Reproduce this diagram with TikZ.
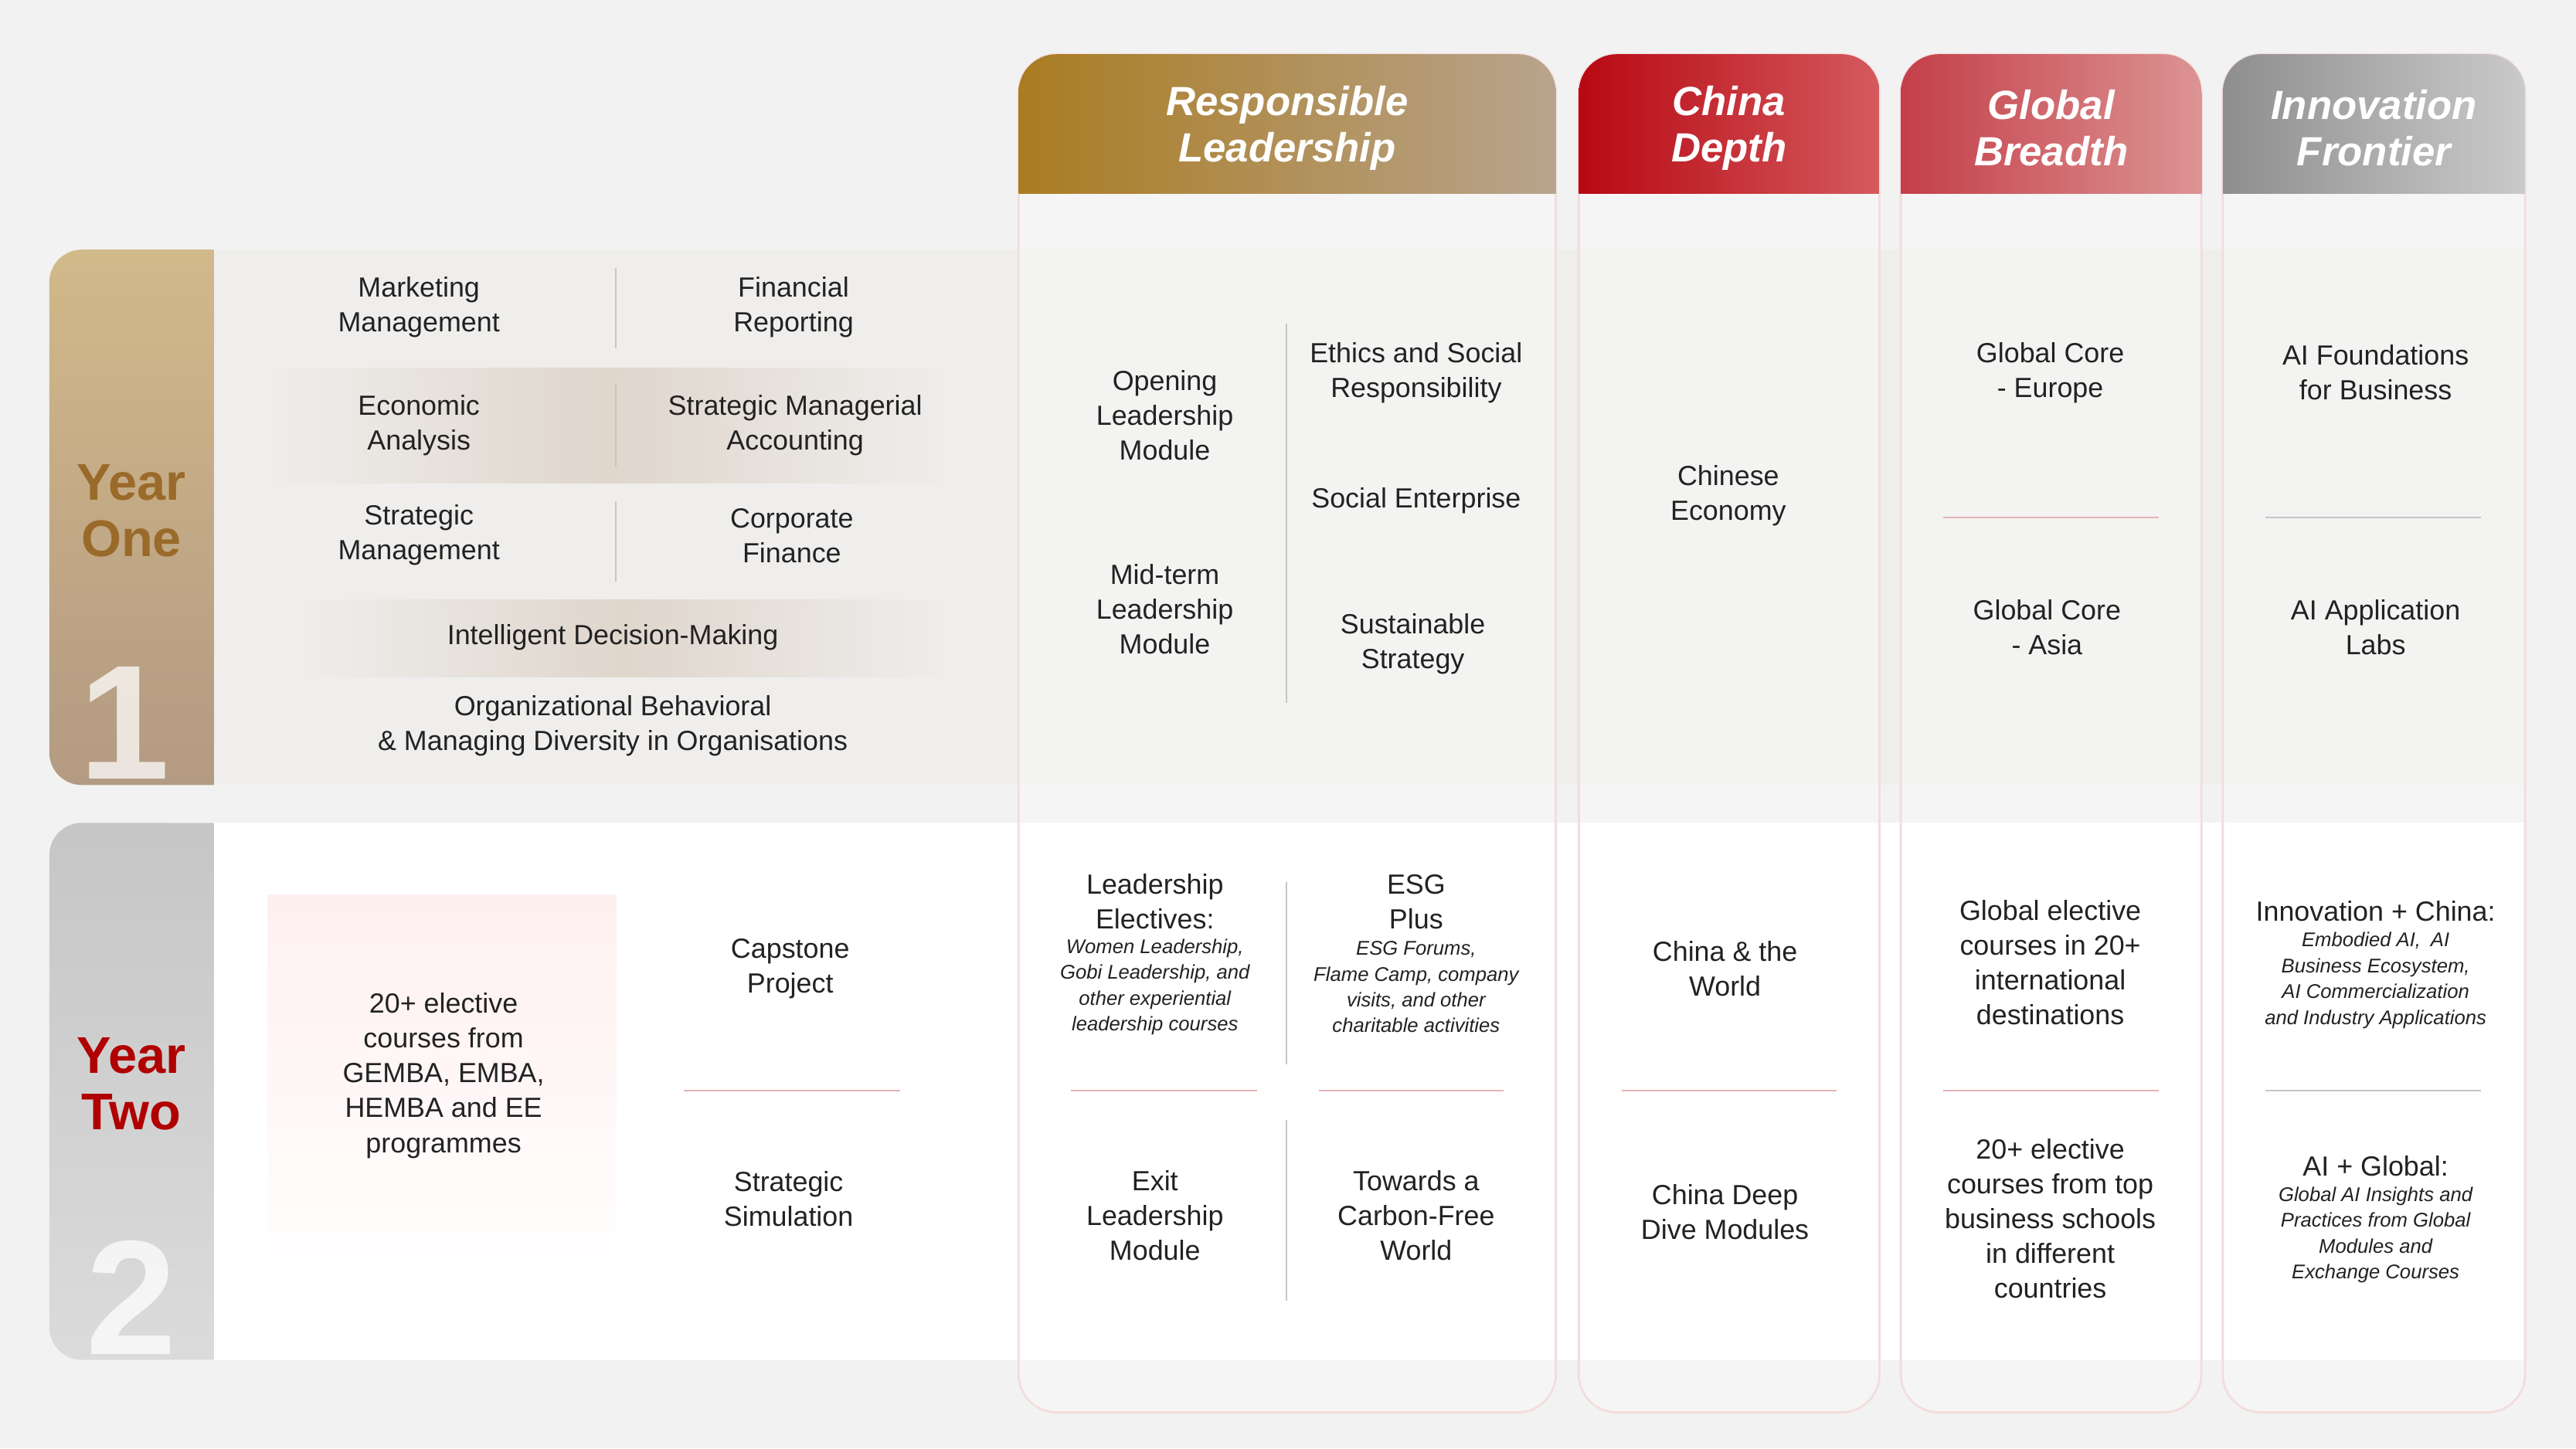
\documentclass[tikz,border=0pt]{standalone}
\usepackage{fontspec}
\setmainfont{Liberation Sans}
\usetikzlibrary{positioning}
\definecolor{bg}{HTML}{F2F2F2}
\definecolor{bandone}{HTML}{EFEEED}
\definecolor{gold}{HTML}{AA7C22}
\definecolor{goldlt}{HTML}{B8A48E}
\definecolor{tabtop}{HTML}{D2B98A}
\definecolor{tabbot}{HTML}{B39A82}
\definecolor{brownyr}{HTML}{9A6A2A}
\definecolor{redyr}{HTML}{B00000}
\definecolor{chinaA}{HTML}{B80812}
\definecolor{chinaB}{HTML}{D45A5E}
\definecolor{globA}{HTML}{C43E48}
\definecolor{globB}{HTML}{DC9494}
\definecolor{innoA}{HTML}{8E8E8E}
\definecolor{innoB}{HTML}{CACACA}
\definecolor{txtc}{HTML}{222222}
\definecolor{pinkline}{HTML}{E4B4B4}
\tikzset{
	txt/.style={align=center, text=txtc, font=\fontsize{10.2}{12.8}\selectfont},
	small/.style={align=center, text=txtc, font=\fontsize{7.3}{9.5}\selectfont\itshape},
	head/.style={align=center, text=white, font=\fontsize{15}{17}\selectfont\bfseries\itshape},
	year/.style={align=center, font=\fontsize{19}{21}\selectfont\bfseries},
	bignum/.style={text=white, opacity=0.75, font=\fontsize{60}{60}\selectfont\bfseries},
	sep/.style={gray!45, line width=0.6pt},
	rsep/.style={pinkline, line width=0.6pt},
	col/.style={draw=pinkline!45, line width=0.8pt, fill=white, fill opacity=0.3, rounded corners=14pt}
}
\begin{document}
\begin{tikzpicture}[x=0.02126cm, y=-0.02126cm]
	\useasboundingbox (0,0) rectangle (1568,882);
	\fill [bg] (0,0) rectangle (1568,882);

	% year bands
	\fill [bandone] (100,152) rectangle (1537,478);
	\fill [white] (100,501) rectangle (1537,828);
	\begin{scope}
		\clip [rounded corners=12pt] (30,152) rectangle (170,478);
		\shade [top color=tabtop, bottom color=tabbot] (30,152) rectangle (130,478);
	\end{scope}
	\begin{scope}
		\clip [rounded corners=12pt] (30,501) rectangle (170,828);
		\shade [top color=gray!45, bottom color=gray!28] (30,501) rectangle (130,828);
	\end{scope}
	\node [year, text=brownyr] (y1) at (80,311) {Year\\One};
	\node [year, text=redyr] (y2) at (80,660) {Year\\Two};
	\node [bignum] (n1) at (76,440) {1};
	\node [bignum] (n2) at (80,790) {2};

	% highlight strips
	\shade [left color=bandone, right color=bandone, middle color=goldlt!45] (160,224) rectangle (580,294);
	\shade [left color=bandone, right color=bandone, middle color=goldlt!45] (180,365) rectangle (580,412);
	\shade [top color=red!6, bottom color=white] (163,545) rectangle (375,790);

	% columns
	\foreach \xa/\xb/\ca/\cb/\nm in {620/947/gold/goldlt/rl, 961/1144/chinaA/chinaB/cd, 1157/1340/globA/globB/gb, 1353/1537/innoA/innoB/if} {
		\draw [col] (\xa,33) rectangle (\xb,860);
		\begin{scope}
			\clip [rounded corners=14pt] (\xa,33) rectangle (\xb,200);
			\shade [left color=\ca, right color=\cb] (\xa,33) rectangle (\xb,118);
		\end{scope}
		\coordinate (h\nm) at ({(\xa+\xb)/2},78);
	}
	\node [head] (hdrl) at (hrl) {Responsible\\ Leadership};
	\node [head] (hdcd) at (hcd) {China\\Depth};
	\node [head] (hdgb) at (hgb) {Global\\Breadth};
	\node [head] (hdif) at (hif) {Innovation\\Frontier};

	% year one, core
	\node [txt] (mm) at (255,187) {Marketing\\Management};
	\node [txt] (fr) at (483,187) {Financial\\Reporting};
	\node [txt] (ea) at (255,259) {Economic\\Analysis};
	\node [txt] (sma) at (484,259) {Strategic Managerial\\Accounting};
	\node [txt] (sm) at (255,326) {Strategic\\Management};
	\node [txt] (cf) at (482,326) {Corporate\\Finance};
	\node [txt] (idm) at (373,388) {Intelligent Decision-Making};
	\node [txt] (ob) at (373,442) {Organizational Behavioral\\\& Managing Diversity in Organisations};
	\draw [sep] (375,163) -- (375,212);
	\draw [sep] (375,234) -- (375,284);
	\draw [sep] (375,305) -- (375,354);

	% year one, columns
	\node [txt] (olm) at (709,253) {Opening\\Leadership\\Module};
	\node [txt] (mlm) at (709,371) {Mid-term\\Leadership\\Module};
	\node [txt] (esr) at (862,227) {Ethics and Social\\Responsibility};
	\node [txt] (se) at (862,305) {Social Enterprise};
	\node [txt] (ss) at (860,392) {Sustainable\\Strategy};
	\draw [sep] (783,197) -- (783,428);
	\node [txt] (ce) at (1052,302) {Chinese\\Economy};
	\node [txt] (gce) at (1248,227) {Global Core\\- Europe};
	\node [txt] (gca) at (1246,382) {Global Core\\- Asia};
	\draw [rsep] (1183,315) -- (1314,315);
	\node [txt] (aif) at (1446,227) {AI Foundations\\for Business};
	\node [txt] (ail) at (1446,382) {AI Application\\Labs};
	\draw [sep] (1379,315) -- (1510,315);

	% year two
	\node [txt] (el) at (270,655) {20+ elective\\courses from\\GEMBA, EMBA,\\HEMBA and EE\\programmes};
	\node [txt] (cp) at (481,590) {Capstone\\Project};
	\node [txt] (ssim) at (480,730) {Strategic\\Simulation};
	\draw [rsep] (416,664) -- (548,664);
	\node [txt] (le) at (703,549) {Leadership\\Electives:};
	\node [small] (les) at (703,601) {Women Leadership,\\Gobi Leadership, and\\other experiential\\leadership courses};
	\node [txt] (esg) at (862,549) {ESG\\Plus};
	\node [small] (esgs) at (862,601) {ESG Forums,\\Flame Camp, company\\visits, and other\\charitable activities};
	\node [txt] (elm) at (703,740) {Exit\\Leadership\\Module};
	\node [txt] (tcf) at (862,740) {Towards a\\Carbon-Free\\World};
	\draw [rsep] (652,664) -- (765,664);
	\draw [rsep] (803,664) -- (915,664);
	\draw [sep] (783,537) -- (783,648);
	\draw [sep] (783,682) -- (783,792);
	\node [txt] (ctw) at (1050,590) {China \& the\\World};
	\node [txt] (cdd) at (1050,738) {China Deep\\Dive Modules};
	\draw [rsep] (987,664) -- (1118,664);
	\node [txt] (gec) at (1248,586) {Global elective\\courses in 20+\\international\\destinations};
	\node [txt] (gbs) at (1248,742) {20+ elective\\courses from top\\business schools\\in different\\countries};
	\draw [rsep] (1183,664) -- (1314,664);
	\node [txt] (ic) at (1446,555) {Innovation + China:};
	\node [small] (ics) at (1446,597) {Embodied AI,\enspace AI\\Business Ecosystem,\\AI Commercialization\\and Industry Applications};
	\node [txt] (ag) at (1446,710) {AI + Global:};
	\node [small] (ags) at (1446,752) {Global AI Insights and\\Practices from Global\\Modules and\\Exchange Courses};
	\draw [sep] (1379,664) -- (1510,664);
\end{tikzpicture}
\end{document}
